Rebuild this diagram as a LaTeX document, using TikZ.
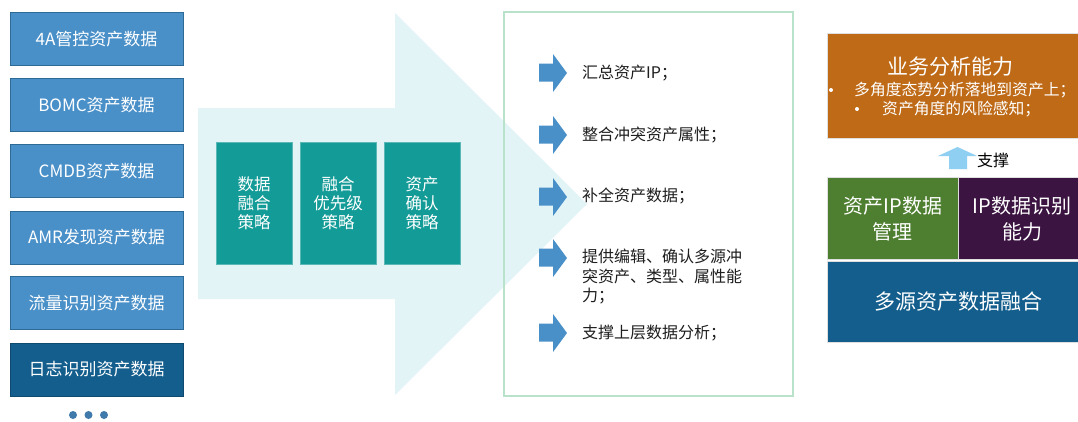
\documentclass[tikz,border=0pt]{standalone}
\usepackage{fontspec}
\setmainfont{Noto Sans CJK SC}
\usetikzlibrary{positioning}
\definecolor{srcblue}{HTML}{4A90C8}
\definecolor{srcedge}{HTML}{2D6A96}
\definecolor{darkblue}{HTML}{135E8C}
\definecolor{arrowbg}{HTML}{E3F4F7}
\definecolor{teal}{HTML}{139B97}
\definecolor{panelgreen}{HTML}{B9E2CB}
\definecolor{bizorange}{HTML}{BE6A17}
\definecolor{ipgreen}{HTML}{4E7F30}
\definecolor{ippurple}{HTML}{3C1442}
\definecolor{uparrow}{HTML}{8ECFF2}
\definecolor{txtdark}{HTML}{1E1E1E}
\tikzset{
  srcbox/.style={draw=srcedge, line width=0.8pt, fill=srcblue, text=white,
    minimum width=173pt, minimum height=53pt, inner sep=0pt,
    font=\fontsize{17}{19}\selectfont},
  strat/.style={fill=teal, draw=teal!70!white, line width=0.5pt, text=white,
    minimum width=76pt, minimum height=122pt, inner sep=0pt, align=center,
    font=\fontsize{16.5}{19}\selectfont},
  itemtxt/.style={anchor=west, text=txtdark, align=left, inner sep=0pt,
    font=\fontsize{16}{19.5}\selectfont},
  layer/.style={draw=gray!25, line width=0.8pt, text=white, inner sep=0pt, align=center},
  bullettxt/.style={text=white, anchor=west, inner sep=0pt, font=\fontsize{15.8}{19}\selectfont},
  bulletdot/.style={circle, fill=white, minimum size=4pt, inner sep=0pt},
  dot/.style={circle, fill=srcblue!85!black, minimum size=8pt, inner sep=0pt}
}
\begin{document}
\begin{tikzpicture}[x=1pt,y=-1pt]
\useasboundingbox (0,0) rectangle (1078,421);
\fill[white] (0,0) rectangle (1078,421);
% big background arrow
\fill[arrowbg] (198,108) -- (395,108) -- (395,13) -- (587,204) -- (395,395) -- (395,299) -- (198,299) -- cycle;
% left source boxes
\node[srcbox] (s1) at (96.5,39) {4A管控资产数据};
\node[srcbox] (s2) at (96.5,105) {BOMC资产数据};
\node[srcbox] (s3) at (96.5,171) {CMDB资产数据};
\node[srcbox] (s4) at (96.5,237.5) {AMR发现资产数据};
\node[srcbox] (s5) at (96.5,303) {流量识别资产数据};
\node[srcbox, fill=darkblue, draw=darkblue!80!black] (s6) at (96.5,369.5) {日志识别资产数据};
\node[dot] (d1) at (73,415) {};
\node[dot] (d2) at (88.5,415) {};
\node[dot] (d3) at (104,415) {};
% strategy boxes
\node[strat] (p1) at (254,203) {数据\\融合\\策略};
\node[strat] (p2) at (338,203) {融合\\优先级\\策略};
\node[strat] (p3) at (422,203) {资产\\确认\\策略};
% result panel
\node[draw=panelgreen, line width=2pt, minimum width=289pt, minimum height=384pt, inner sep=0pt] (panel) at (648.5,204) {};
\foreach \yy in {73,135,197,258,333}{
  \fill[srcblue] (539,\yy-9.5) -- (553,\yy-9.5) -- (553,\yy-19) -- (567,\yy) -- (553,\yy+19) -- (553,\yy+8.5) -- (539,\yy+8.5) -- cycle;
}
\node[itemtxt] (i1) at (582,73) {汇总资产IP；};
\node[itemtxt] (i2) at (582,135) {整合冲突资产属性；};
\node[itemtxt] (i3) at (582,196) {补全资产数据；};
\node[itemtxt] (i4) at (582,277) {提供编辑、确认多源冲\\突资产、类型、属性能\\力；};
\node[itemtxt] (i5) at (582,333) {支撑上层数据分析；};
% right stack
\node[layer, fill=bizorange, minimum width=260pt, minimum height=105pt, anchor=north west] (biz) at (827,33) {};
\node[text=white, font=\fontsize{21}{24}\selectfont, inner sep=0pt] (bizt) at (950,67) {业务分析能力};
\node[bulletdot] (b1) at (831,90) {};
\node[bullettxt] (b1t) at (854,90) {多角度态势分析落地到资产上；};
\node[bulletdot] (b2) at (857,109) {};
\node[bullettxt] (b2t) at (882,109) {资产角度的风险感知；};
% support arrow
\fill[uparrow] (949,169) -- (949,156) -- (938,156) -- (957.5,147) -- (977,156) -- (967,156) -- (967,169) -- cycle;
\node[anchor=west, text=black, inner sep=0pt, font=\fontsize{16}{19}\selectfont] (sup) at (977,160) {支撑};
\node[layer, fill=ipgreen, minimum width=131pt, minimum height=82pt, anchor=north west,
  font=\fontsize{20}{26}\selectfont] (ipm) at (827,177) {资产IP数据\\管理};
\node[layer, fill=ippurple, minimum width=128pt, minimum height=82pt, anchor=north west] (ipr) at (958,177) {};
\node[text=white, align=center, inner sep=0pt, font=\fontsize{20}{26}\selectfont] (iprt) at (1022,219) {IP数据识别\\能力};
\node[layer, fill=darkblue, minimum width=260pt, minimum height=81pt, anchor=north west] (fuse) at (827,261) {};
\node[text=white, inner sep=0pt, font=\fontsize{21}{24}\selectfont] (fuset) at (958,302) {多源资产数据融合};
\end{tikzpicture}
\end{document}
